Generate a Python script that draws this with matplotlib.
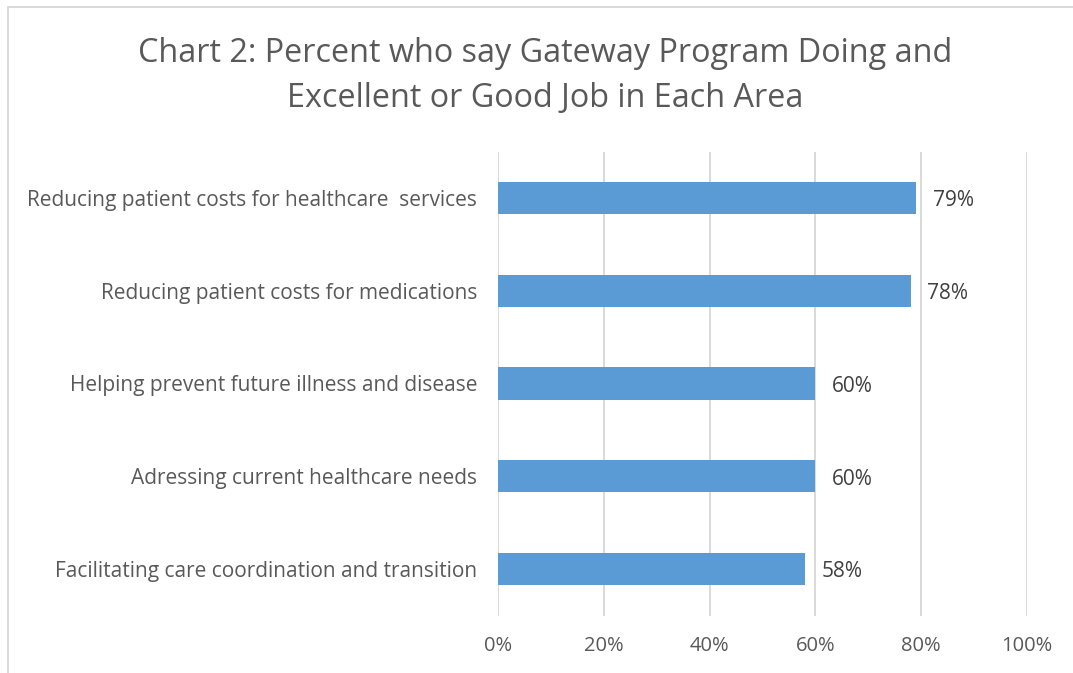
import matplotlib
matplotlib.use("Agg")
import matplotlib.pyplot as plt
from matplotlib.patches import Rectangle
from matplotlib.ticker import FuncFormatter

plt.rcParams['font.family'] = ['Open Sans', 'DejaVu Sans']

categories = [
    "Reducing patient costs for healthcare  services",
    "Reducing patient costs for medications",
    "Helping prevent future illness and disease",
    "Adressing current healthcare needs",
    "Facilitating care coordination and transition",
]
values = [79, 78, 60, 60, 58]
x_ticks = [0, 20, 40, 60, 80, 100]
title = "Chart 2: Percent who say Gateway Program Doing and\nExcellent or Good Job in Each Area"

W, H, DPI = 1073, 673, 100
fig = plt.figure(figsize=(W / DPI, H / DPI), dpi=DPI)

# chart frame (runs off the right and bottom edges)
fig.patches.append(Rectangle((8 / W, -0.05), 1.2, 1 - 7.5 / H + 0.05,
                             transform=fig.transFigure, fill=False,
                             edgecolor="#D9D9D9", linewidth=1.4, zorder=0))

ax = fig.add_axes([498 / W, 1 - 615.5 / H, (1027 - 498) / W, (615.5 - 151.5) / H])
ypos = list(range(len(categories)))
ax.barh(ypos, values, height=0.345, color="#5B9BD5", zorder=3)
ax.set_ylim(len(categories) - 0.5, -0.5)
ax.set_xlim(0, 100)
ax.set_yticks(ypos)
ax.set_yticklabels(categories, fontsize=15, color="#595959")
ax.set_xticks(x_ticks)
ax.xaxis.set_major_formatter(FuncFormatter(lambda v, p: f"{v:.0f}%"))
ax.tick_params(axis="x", labelsize=14.5, labelcolor="#595959", length=0, pad=15)
ax.tick_params(axis="y", length=0, pad=15)
ax.grid(axis="x", color="#D9D9D9", linewidth=1.4, zorder=0)
for s in ax.spines.values():
    s.set_visible(False)

for y, v in zip(ypos, values):
    ax.annotate(f"{v}%", (v, y), xytext=(12, -2), textcoords="offset points",
                va="center", ha="left", fontsize=15, color="#404040")

fig.text(545 / W, 1 - 76 / H, title, ha="center", va="center",
         fontsize=23.3, color="#595959", linespacing=1.5)

fig.savefig("out.png", dpi=DPI)
